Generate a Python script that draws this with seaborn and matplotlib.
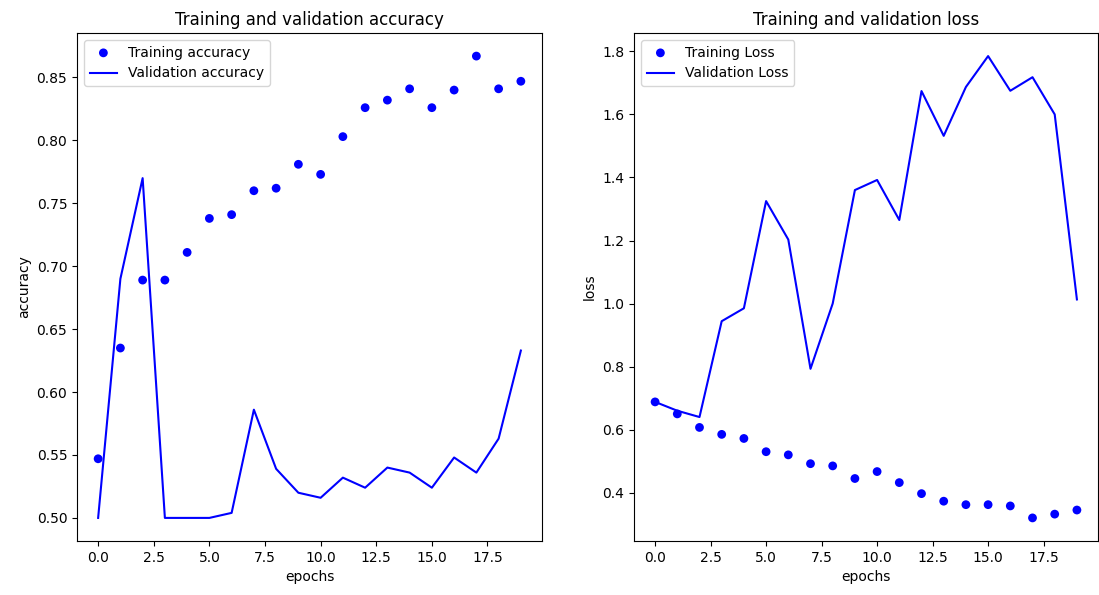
import matplotlib
matplotlib.use("Agg")
import matplotlib.pyplot as plt
import seaborn as sns
import numpy as np

epochs = list(range(20))
train_acc = [0.547,0.635,0.689,0.689,0.711,0.738,0.741,0.760,0.762,0.781,0.773,0.803,0.826,0.832,0.841,0.826,0.840,0.867,0.841,0.847]
val_acc = [0.500,0.690,0.770,0.500,0.500,0.500,0.504,0.586,0.539,0.520,0.516,0.532,0.524,0.540,0.536,0.524,0.548,0.536,0.563,0.633]
train_loss = [0.688,0.650,0.607,0.585,0.572,0.530,0.520,0.492,0.485,0.445,0.467,0.432,0.397,0.373,0.362,0.362,0.358,0.320,0.332,0.345]
val_loss = [0.688,0.660,0.640,0.944,0.985,1.325,1.203,0.793,1.000,1.360,1.392,1.265,1.674,1.532,1.687,1.785,1.675,1.718,1.600,1.013]

fig = plt.figure(figsize=(10.99,5.95), dpi=100)
ax1 = fig.add_axes([77/1099, 1-541/595, 465/1099, 508/595])
ax2 = fig.add_axes([634/1099, 1-541/595, 464/1099, 508/595])

for ax, tr, va, trl, val, title, yl in [
    (ax1, train_acc, val_acc, "Training accuracy", "Validation accuracy", "Training and validation accuracy", "accuracy"),
    (ax2, train_loss, val_loss, "Training Loss", "Validation Loss", "Training and validation loss", "loss")]:
    sns.scatterplot(x=epochs, y=tr, ax=ax, color="blue", s=40, edgecolor="none", label=trl, zorder=3)
    sns.lineplot(x=epochs, y=va, ax=ax, color="blue", label=val, linewidth=1.5)
    ax.set_title(title, fontsize=12)
    ax.set_xlabel("epochs")
    ax.set_ylabel(yl)
    ax.legend(loc="upper left", fontsize=10)
    ax.set_xticks([0,2.5,5,7.5,10,12.5,15,17.5])
ax2.set_yticks([0.4,0.6,0.8,1.0,1.2,1.4,1.6,1.8])
fig.savefig("out.png", dpi=100)
